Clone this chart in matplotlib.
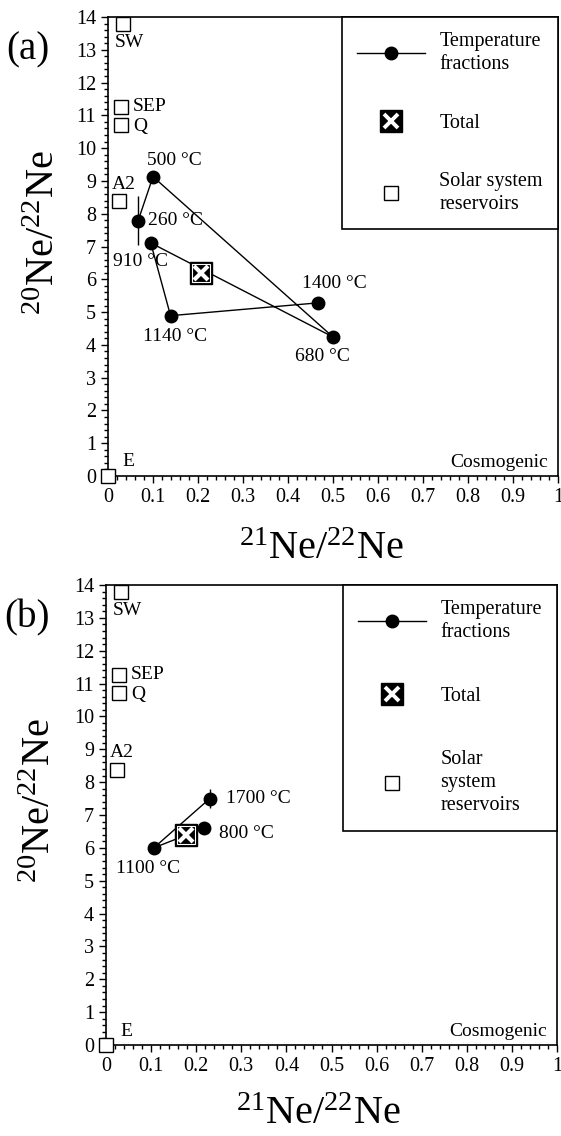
import matplotlib

matplotlib.use("Agg")
import matplotlib.pyplot as plt
from matplotlib.legend_handler import HandlerTuple
from matplotlib.lines import Line2D
from matplotlib.ticker import FuncFormatter, MultipleLocator

plt.rcParams["font.family"] = ["Liberation Serif", "DejaVu Serif"]
plt.rcParams["mathtext.fontset"] = "custom"
plt.rcParams["mathtext.rm"] = "Liberation Serif"
plt.rcParams["mathtext.it"] = "Liberation Serif:italic"

# solar system reservoirs (same in both panels)
res_names = ["SW", "SEP", "Q", "A2", "E"]
res_x = [0.034, 0.029, 0.029, 0.024, 0.0]
res_y = [13.8, 11.25, 10.72, 8.38, 0.0]

# panel (a) temperature steps, in release order
a_temps = ["260 °C", "500 °C", "680 °C", "910 °C", "1140 °C", "1400 °C"]
a_x = [0.067, 0.100, 0.500, 0.095, 0.139, 0.466]
a_y = [7.79, 9.13, 4.24, 7.11, 4.89, 5.28]
a_yerr = [0.75, 0, 0, 0, 0, 0]
a_total = (0.206, 6.20)

# panel (b)
b_temps = ["800 °C", "1100 °C", "1700 °C"]
b_x = [0.217, 0.106, 0.230]
b_y = [6.60, 6.00, 7.50]
b_yerr = [0, 0, 0.28]
b_total = (0.177, 6.38)

# label placement in pixels (dx, dy, ha)
a_temp_offsets = [(10, 0, "left"), (21, 16, "center"), (-11, -20, "center"),
                  (-10, -19, "center"), (5, -21, "center"), (17, 19, "center")]
b_temp_offsets = [(15, -5, "left"), (-6, -21, "center"), (16, 0, "left")]
res_offsets = [(6, -19, "center"), (12, 1, "left"), (12, -2, "left"),
               (5, 17, "center"), (20, 14, "center")]

W, H = 561, 1136
FS = 14


def px_rect(left, top, right, bottom):
    return [left / W, 1 - bottom / H, (right - left) / W, (bottom - top) / H]


def draw_panel(ax, temps, xs, ys, yerr, total, temp_offsets, res_label, spacing):
    ax.errorbar(xs, ys, yerr=yerr, color="black", lw=1, marker="o", ms=9,
                capsize=0, elinewidth=1, zorder=3)
    ax.plot(*total, marker="s", ms=16, mfc="black", mec="black", ls="none", zorder=4)
    ax.plot(*total, marker="s", ms=13.5, mfc="black", mec="white", mew=0.8, ls="none", zorder=5)
    ax.plot(*total, marker="x", ms=10.5, color="white", mew=3, ls="none", zorder=6)
    ax.plot(res_x, res_y, marker="s", ms=9.5, mfc="white", mec="black", mew=1,
            ls="none", clip_on=False, zorder=3)

    for name, x, y, (dx, dy, ha) in zip(temps, xs, ys, temp_offsets):
        ax.annotate(name, (x, y), xytext=(dx, dy), textcoords="offset pixels",
                    ha=ha, va="center", fontsize=FS)
    for name, x, y, (dx, dy, ha) in zip(res_names, res_x, res_y, res_offsets):
        ax.annotate(name, (x, y), xytext=(dx, dy), textcoords="offset pixels",
                    ha=ha, va="center", fontsize=FS)
    ax.text(0.978, 0.4, "Cosmogenic", ha="right", va="center", fontsize=FS)

    ax.set_xlim(0, 1)
    ax.set_ylim(0, 14)
    ax.xaxis.set_major_locator(MultipleLocator(0.1))
    ax.xaxis.set_minor_locator(MultipleLocator(0.02))
    ax.yaxis.set_major_locator(MultipleLocator(1))
    ax.yaxis.set_minor_locator(MultipleLocator(0.2))
    ax.xaxis.set_major_formatter(FuncFormatter(lambda v, _: f"{round(v, 2):g}"))
    ax.tick_params(which="both", direction="out", top=False, right=False,
                   width=1, labelsize=14.5)
    ax.tick_params(which="major", length=5)
    ax.tick_params(which="minor", length=3)
    for s in ax.spines.values():
        s.set_linewidth(1.2)

    ax.set_xlabel(r"$\mathregular{^{21}Ne/^{22}Ne}$", fontsize=29)
    ax.set_ylabel(r"$\mathregular{^{20}Ne/^{22}Ne}$", fontsize=29)

    handles = [
        Line2D([], [], color="black", lw=1, marker="o", ms=9),
        (Line2D([], [], marker="s", ms=15.5, color="black", ls="none"),
         Line2D([], [], marker="x", ms=10, color="white", mew=2.8, ls="none")),
        Line2D([], [], marker="s", ms=10, mfc="white", mec="black", ls="none"),
    ]
    leg = ax.legend(handles, ["Temperature\nfractions", "Total", res_label],
                    handler_map={tuple: HandlerTuple(ndivide=1)},
                    loc="upper right", bbox_to_anchor=(1, 1), borderaxespad=0,
                    fontsize=14.5, frameon=True, fancybox=False, framealpha=1,
                    edgecolor="black", handlelength=3.4, handletextpad=0.7,
                    borderpad=0.75, labelspacing=spacing)
    leg.get_frame().set_linewidth(1.2)
    for t in leg.get_texts():
        t.set_linespacing(1.3)


fig = plt.figure(figsize=(W / 100, H / 100), dpi=100)
ax_a = fig.add_axes(px_rect(108, 17, 558, 476))
ax_b = fig.add_axes(px_rect(106, 585, 557, 1045))

draw_panel(ax_a, a_temps, a_x, a_y, a_yerr, a_total, a_temp_offsets,
           "Solar system\nreservoirs", 1.95)
draw_panel(ax_b, b_temps, b_x, b_y, b_yerr, b_total, b_temp_offsets,
           "Solar\nsystem\nreservoirs", 2.2)

ax_a.xaxis.set_label_coords(0.473, -0.12)
ax_b.xaxis.set_label_coords(0.47, -0.11)
ax_a.yaxis.set_label_coords(-0.1, 0.529)
ax_b.yaxis.set_label_coords(-0.104, 0.53)

fig.text(28 / W, 1 - 50 / H, "(a)", fontsize=28, ha="center", va="center")
fig.text(27 / W, 1 - 618 / H, "(b)", fontsize=28, ha="center", va="center")

fig.savefig("out.png", dpi=100)
